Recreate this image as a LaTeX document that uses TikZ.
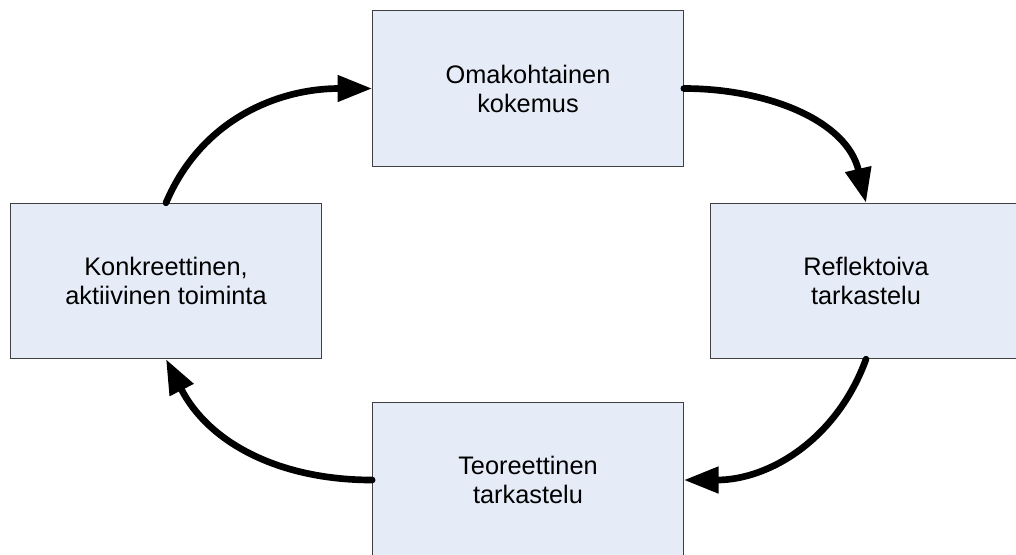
\documentclass[tikz,border=0pt]{standalone}
\usepackage{fontspec}
\setmainfont{Liberation Sans}
\usetikzlibrary{arrows.meta}
\definecolor{boxfill}{HTML}{E6ECF7}
\definecolor{boxline}{HTML}{404040}
\begin{document}
\begin{tikzpicture}[x=0.75pt,y=0.75pt,
  stage/.style={draw=boxline, line width=0.75pt, fill=boxfill,
    minimum width=233pt, minimum height=116.5pt, inner sep=0pt,
    align=center, font=\fontsize{19}{21.75}\selectfont},
  flow/.style={line width=5pt, line cap=round,
    -{Triangle[length=26pt,width=19pt]}}]
\useasboundingbox (0,0) rectangle (1016,-554);
\clip (0,0) rectangle (1016,-554);
\fill[white] (0,0) rectangle (1016,-554);

% the four stages of the cycle
\node[stage] (top)    at (528,-88.5) {Omakohtainen\\kokemus};
\node[stage] (right)  at (866,-281)  {Reflektoiva\\tarkastelu};
\node[stage] (bottom) at (528,-480)  {Teoreettinen\\tarkastelu};
\node[stage] (left)   at (166,-281)  {Konkreettinen,\\aktiivinen toiminta};

% curved arrows running clockwise
\draw[flow] (left.north)  to[out=67,in=180]  (top.west);
\draw[flow] (top.east)    to[out=0,in=103]   (right.north);
\draw[flow] (right.south) to[out=-110,in=0]  (bottom.east);
\draw[flow] (bottom.west) to[out=180,in=-63] (left.south);
\end{tikzpicture}
\end{document}
